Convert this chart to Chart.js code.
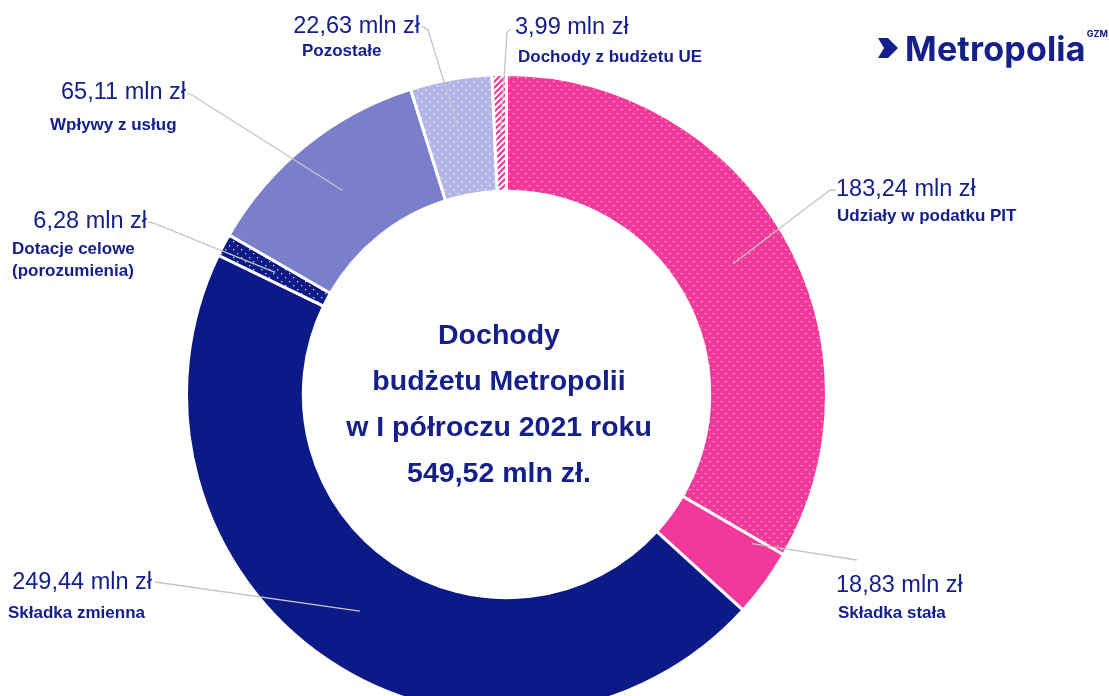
<!DOCTYPE html>
<html lang="pl">
<head>
<meta charset="utf-8">
<script src="https://cdn.jsdelivr.net/npm/chart.js@4.4.1/dist/chart.umd.min.js"></script>
<style>
  html, body { margin: 0; padding: 0; background: #fff; overflow: hidden; }
  #wrap { position: relative; width: 1109px; height: 716px; }
  #logo { position: absolute; left: 876px; top: 25px; height: 46px; display: flex; align-items: center;
          font-family: Inter, 'Liberation Sans', sans-serif; font-weight: 700; color: #15208c; }
  #logo .word { font-size: 34px; letter-spacing: 0.2px; margin-left: 7px; }
  #logo .gzm { font-size: 9px; position: relative; top: -15px; margin-left: 1px; }
</style>
</head>
<body>
<div id="wrap">
  <canvas id="incomeChart" width="1109" height="716"></canvas>
  <div id="logo">
    <svg width="22" height="22" viewBox="0 0 22 22"><polygon points="2,1 12,1 22,11 12,21 2,21 8,11" fill="#15208c"/></svg>
    <span class="word">Metropolia</span><span class="gzm">GZM</span>
  </div>
</div>
<script>
// Dochody budżetu Metropolii GZM, I półrocze 2021 (mln zł)
const categories = ['Udziały w podatku PIT', 'Składka stała', 'Składka zmienna', 'Dotacje celowe\n(porozumienia)',
    'Wpływy z usług', 'Pozostałe', 'Dochody z budżetu UE'];
const amounts = [183.24, 18.83, 249.44, 6.28, 65.11, 22.63, 3.99];
const centerLines = ['Dochody', 'budżetu Metropolii', 'w I półroczu 2021 roku', '549,52 mln zł.'];

const NAVY_TEXT = '#15208c';
const PINK = '#f2389b';
const NAVY = '#0c1a88';

function dotPattern(bg, dot) {
    const c = document.createElement('canvas');
    c.width = c.height = 8;
    const g = c.getContext('2d');
    g.fillStyle = bg;
    g.fillRect(0, 0, 8, 8);
    g.fillStyle = dot;
    g.fillRect(1, 1, 1.3, 1.3);
    g.fillRect(5, 5, 1.3, 1.3);
    return g.createPattern(c, 'repeat');
}

function stripePattern(bg, line) {
    const c = document.createElement('canvas');
    c.width = c.height = 6;
    const g = c.getContext('2d');
    g.fillStyle = bg;
    g.fillRect(0, 0, 6, 6);
    g.strokeStyle = line;
    g.lineWidth = 2.2;
    g.beginPath();
    g.moveTo(-1, 7); g.lineTo(7, -1);
    g.moveTo(-1, 1); g.lineTo(1, -1);
    g.moveTo(5, 7); g.lineTo(7, 5);
    g.stroke();
    return g.createPattern(c, 'repeat');
}

const fills = [
    dotPattern(PINK, 'rgba(255,255,255,0.75)'),
    PINK,
    NAVY,
    dotPattern(NAVY, 'rgba(255,255,255,0.8)'),
    '#7b7ecb',
    dotPattern('#b3b5e6', 'rgba(255,255,255,0.85)'),
    stripePattern('#ffffff', PINK)
];

// label placement: value text, sub text, leader line end (+ optional elbow), start on arc
const placement = [
    { vx: 836, vy: 190, va: 'left', sx: 837, sy: 216, end: [836, 190], elbow: [830, 190], t: 0.5, rr: 0.5 },
    { vx: 836, vy: 586, va: 'left', sx: 838, sy: 613, end: [857, 560], t: 0.1, rr: 0.72 },
    { vx: 152, vy: 583, va: 'right', sx: 8, sy: 613, end: [155, 582], t: 0.5, rr: 0.5 },
    { vx: 147, vy: 222, va: 'right', sx: 12, sy: 249, end: [148, 222], elbow: [153, 223], t: 0.5, rr: 0.5 },
    { vx: 186, vy: 93, va: 'right', sx: 50, sy: 125, end: [187, 93], elbow: [192, 95], t: 0.5, rr: 0.5 },
    { vx: 420, vy: 27, va: 'right', sx: 302, sy: 51, end: [422, 26], elbow: [428, 30], t: 0.5, rr: 0.5 },
    { vx: 515, vy: 28, va: 'left', sx: 518, sy: 57, end: [511, 29], elbow: [507, 32], t: 0.5, rr: 0.5 }
];

const fmt = v => v.toFixed(2).replace('.', ',') + ' mln zł';

const labelPlugin = {
    id: 'labels',
    afterDatasetsDraw(chart) {
        const ctx = chart.ctx;
        const arcs = chart.getDatasetMeta(0).data;
        ctx.save();
        // leader lines
        ctx.strokeStyle = '#c4c4c4';
        ctx.lineWidth = 1.3;
        arcs.forEach((arc, i) => {
            const p = placement[i];
            const a = arc.startAngle + (arc.endAngle - arc.startAngle) * p.t;
            const r = arc.innerRadius + (arc.outerRadius - arc.innerRadius) * p.rr;
            ctx.beginPath();
            ctx.moveTo(arc.x + Math.cos(a) * r, arc.y + Math.sin(a) * r);
            if (p.elbow) ctx.lineTo(p.elbow[0], p.elbow[1]);
            ctx.lineTo(p.end[0], p.end[1]);
            ctx.stroke();
        });
        // labels
        ctx.fillStyle = NAVY_TEXT;
        ctx.textBaseline = 'middle';
        categories.forEach((cat, i) => {
            const p = placement[i];
            ctx.font = '23.5px "Liberation Sans", Arial, sans-serif';
            ctx.textAlign = p.va;
            ctx.fillText(fmt(amounts[i]), p.vx, p.vy);
            ctx.font = 'bold 17px "Liberation Sans", Arial, sans-serif';
            ctx.textAlign = 'left';
            cat.split('\n').forEach((ln, k) => ctx.fillText(ln, p.sx, p.sy + k * 22));
        });
        // center title
        ctx.font = 'bold 28.5px "Liberation Sans", Arial, sans-serif';
        ctx.textAlign = 'center';
        centerLines.forEach((ln, k) => ctx.fillText(ln, 499, 336 + k * 46));
        ctx.restore();
    }
};

new Chart(document.getElementById('incomeChart'), {
    type: 'doughnut',
    data: {
        labels: categories,
        datasets: [{
            data: amounts,
            backgroundColor: fills,
            borderColor: '#ffffff',
            borderWidth: 3
        }]
    },
    options: {
        responsive: false,
        animation: false,
        events: [],
        cutout: '63.5%',
        layout: { padding: { left: 185, top: 73, right: 281, bottom: 0 } },
        plugins: { legend: { display: false }, tooltip: { enabled: false } }
    },
    plugins: [labelPlugin]
});
</script>
</body>
</html>
